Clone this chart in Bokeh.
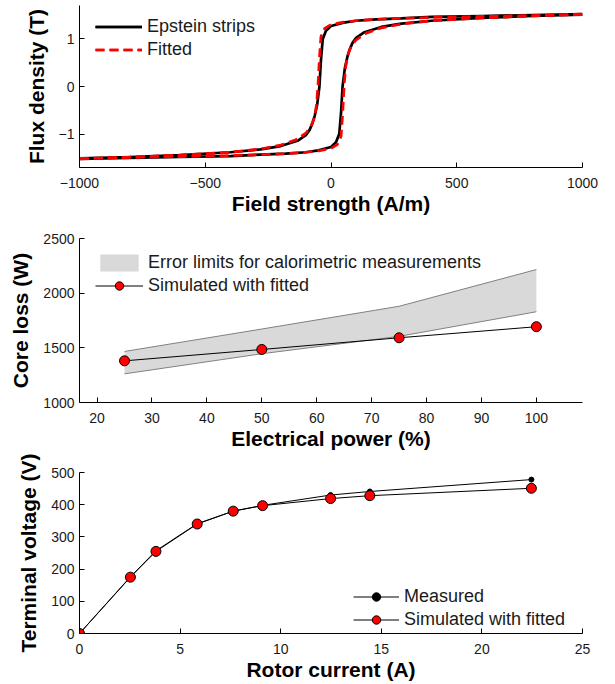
from bokeh.plotting import figure
from bokeh.layouts import column
from bokeh.models import Legend, LegendItem, FixedTicker, Range1d
from bokeh.embed import file_html
from bokeh.resources import INLINE

# ---------------- Data ----------------
# Plot 1: hysteresis loop (field strength A/m, flux density T)
H_up_meas = [-1000, -800, -600, -400, -280, -180, -100, -50, 0, 20, 33, 40, 46, 55, 65, 73, 85, 100, 133, 200, 280, 400, 600, 800, 1000]
B_up_meas = [-1.52, -1.50, -1.48, -1.46, -1.43, -1.41, -1.38, -1.34, -1.27, -1.17, -0.99, -0.55, 0.00, 0.38, 0.62, 0.76, 0.91, 1.02, 1.14, 1.25, 1.32, 1.38, 1.44, 1.48, 1.51]
H_dn_meas = [1000, 800, 600, 400, 280, 180, 100, 50, 0, -20, -33, -40, -46, -55, -65, -73, -85, -100, -133, -200, -280, -400, -600, -800, -1000]
B_dn_meas = [1.52, 1.50, 1.48, 1.46, 1.43, 1.41, 1.38, 1.34, 1.27, 1.17, 0.99, 0.55, 0.00, -0.38, -0.62, -0.76, -0.91, -1.02, -1.14, -1.25, -1.32, -1.38, -1.44, -1.48, -1.51]

H_up_fit = [-1000, -800, -600, -400, -280, -180, -100, -50, 0, 25, 40, 46, 52, 58, 66, 80, 100, 140, 200, 280, 400, 600, 800, 1000]
B_up_fit = [-1.51, -1.49, -1.47, -1.45, -1.43, -1.41, -1.38, -1.35, -1.30, -1.22, -1.05, -0.60, 0.00, 0.40, 0.65, 0.84, 0.98, 1.12, 1.23, 1.31, 1.38, 1.44, 1.48, 1.52]
H_dn_fit = [1000, 800, 600, 400, 280, 180, 100, 50, 0, -25, -40, -46, -52, -58, -66, -80, -100, -140, -200, -280, -400, -600, -800, -1000]
B_dn_fit = [1.51, 1.49, 1.47, 1.45, 1.43, 1.41, 1.38, 1.35, 1.30, 1.22, 1.05, 0.60, 0.00, -0.40, -0.65, -0.84, -0.98, -1.12, -1.23, -1.31, -1.38, -1.44, -1.48, -1.52]

# Plot 2: core loss vs electrical power
power = [25, 50, 75, 100]
loss_sim = [1381, 1485, 1592, 1693]
err_upper = [1467, 1672, 1880, 2216]
err_lower = [1262, 1446, 1605, 1830]

# Plot 3: open-circuit characteristic
I_meas = [0, 2.53, 3.8, 5.85, 7.64, 9.1, 12.48, 14.43, 22.46]
V_meas = [0, 176, 257, 341, 380, 398, 430, 441, 478]
I_sim = [0, 2.53, 3.8, 5.85, 7.64, 9.1, 12.48, 14.43, 22.46]
V_sim = [0, 175, 255, 340, 380, 397, 419, 428, 451]

# ---------------- Styling helpers ----------------
FONT = "Liberation Sans"
TXT = "#1a1a1a"


def style(p, xticks, yticks, xlab, ylab, xover=None, yover=None):
    p.outline_line_color = None
    p.xgrid.visible = False
    p.ygrid.visible = False
    p.background_fill_color = "white"
    p.border_fill_color = "white"
    for ax in (p.xaxis[0], p.yaxis[0]):
        ax.axis_line_color = "black"
        ax.axis_line_width = 1
        ax.major_tick_line_color = "black"
        ax.major_tick_in = 5
        ax.major_tick_out = 0
        ax.minor_tick_line_color = None
        ax.major_label_text_font = FONT
        ax.major_label_text_font_size = "14px"
        ax.major_label_text_color = TXT
        ax.axis_label_text_font = FONT
        ax.axis_label_text_font_style = "bold"
        ax.axis_label_text_font_size = "21px"
        ax.axis_label_text_color = "black"
    p.xaxis[0].ticker = FixedTicker(ticks=xticks)
    p.yaxis[0].ticker = FixedTicker(ticks=yticks)
    p.xaxis[0].axis_label = xlab
    p.yaxis[0].axis_label = ylab
    p.xaxis[0].major_label_standoff = 10
    p.xaxis[0].axis_label_standoff = 1
    p.yaxis[0].major_label_standoff = 5
    p.yaxis[0].axis_label_standoff = 8
    if xover:
        p.xaxis[0].major_label_overrides = xover
    if yover:
        p.yaxis[0].major_label_overrides = yover


def make_legend(items, loc, gw):
    return Legend(items=items, location=loc, label_text_font=FONT,
                  label_text_font_size="18px", label_text_color=TXT,
                  glyph_width=gw, glyph_height=21, label_height=21,
                  spacing=2, padding=0, margin=0, label_standoff=5,
                  border_line_color=None, background_fill_alpha=0)


# ---------------- Plot 1 ----------------
p1 = figure(frame_width=503, frame_height=162, min_border_left=79, min_border_right=30,
            min_border_top=5, min_border_bottom=57,
            x_range=Range1d(-1000, 1000), y_range=Range1d(-1.7, 1.7),
            output_backend="svg", toolbar_location=None)
style(p1, [-1000, -500, 0, 500, 1000], [-1, 0, 1], "Field strength (A/m)", "Flux density (T)",
      xover={-1000: "\u22121000", -500: "\u2212500"}, yover={-1: "\u22121"})
r1a = p1.line(H_up_meas, B_up_meas, line_color="black", line_width=2.7)
r1b = p1.line(H_dn_meas, B_dn_meas, line_color="black", line_width=2.7)
r2a = p1.line(H_up_fit, B_up_fit, line_color="#ff0000", line_width=2.7, line_dash="9 5")
r2b = p1.line(H_dn_fit, B_dn_fit, line_color="#ff0000", line_width=2.7, line_dash="9 5")
leg1 = make_legend([LegendItem(label="Epstein strips", renderers=[r1a, r1b]),
                    LegendItem(label="Fitted", renderers=[r2a, r2b])], (16, 107), 47)
p1.add_layout(leg1)

# ---------------- Plot 2 ----------------
p2 = figure(frame_width=503, frame_height=164, min_border_left=79, min_border_right=30,
            min_border_top=14, min_border_bottom=52,
            x_range=Range1d(16.8, 108.4), y_range=Range1d(1000, 2500),
            output_backend="svg", toolbar_location=None)
style(p2, [20, 30, 40, 50, 60, 70, 80, 90, 100], [1000, 1500, 2000, 2500],
      "Electrical power (%)", "Core loss (W)")
band = p2.varea(x=power, y1=err_lower, y2=err_upper, fill_color="#d9d9d9")
p2.line(power, err_upper, line_color="#808080", line_width=1)
p2.line(power, err_lower, line_color="#808080", line_width=1)
s_line = p2.line(power, loss_sim, line_color="black", line_width=1)
s_pts = p2.scatter(power, loss_sim, size=10, fill_color="#ff0000", line_color="black", line_width=1)
leg2 = make_legend([LegendItem(label="Error limits for calorimetric measurements", renderers=[band]),
                    LegendItem(label="Simulated with fitted", renderers=[s_line, s_pts])], (16, 106), 48)
p2.add_layout(leg2)

# ---------------- Plot 3 ----------------
p3 = figure(frame_width=503, frame_height=161, min_border_left=79, min_border_right=30,
            min_border_top=18, min_border_bottom=50,
            x_range=Range1d(0, 25), y_range=Range1d(0, 500),
            output_backend="svg", toolbar_location=None)
style(p3, [0, 5, 10, 15, 20, 25], [0, 100, 200, 300, 400, 500],
      "Rotor current (A)", "Terminal voltage (V)")
m_line = p3.line(I_meas, V_meas, line_color="black", line_width=1)
m_pts = p3.scatter(I_meas, V_meas, size=5, fill_color="black", line_color="black")
f_line = p3.line(I_sim, V_sim, line_color="black", line_width=1)
f_pts = p3.scatter(I_sim, V_sim, size=10, fill_color="#ff0000", line_color="black", line_width=1)
leg3 = make_legend([LegendItem(label="Measured", renderers=[m_line, m_pts]),
                    LegendItem(label="Simulated with fitted", renderers=[f_line, f_pts])], (274, 3), 46)
p3.add_layout(leg3)

layout = column(p1, p2, p3, spacing=0)
open("out.html", "w").write(file_html(layout, INLINE))
